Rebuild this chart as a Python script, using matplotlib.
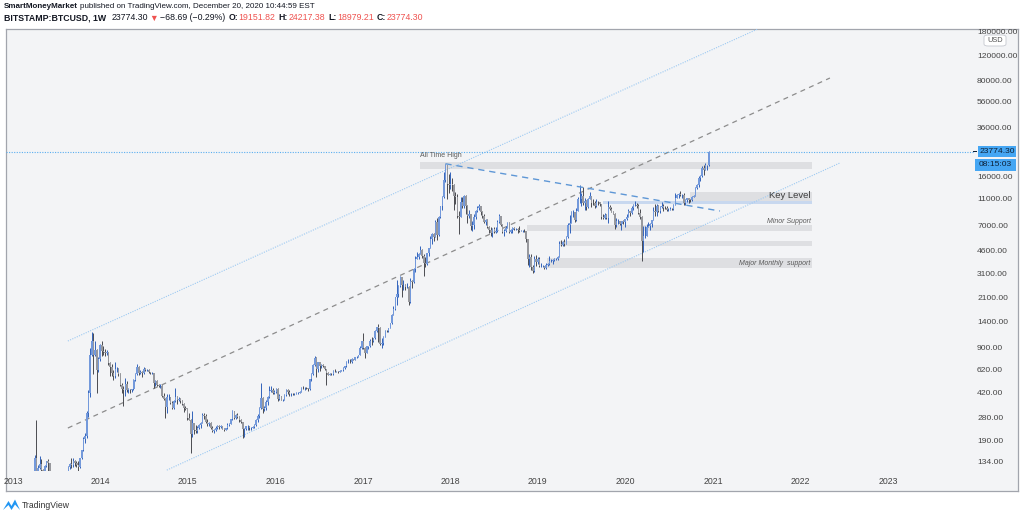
import matplotlib
matplotlib.use('Agg')
import matplotlib.pyplot as plt
import matplotlib.dates as mdates
from matplotlib.patches import Rectangle, FancyBboxPatch, Polygon
import numpy as np
import pandas as pd

# weekly BITSTAMP:BTCUSD candles, weeks starting Mon 2013-01-07
first_open = 13.3
closes = [
    # 2013
    13.6, 14.2, 17.1, 20.4, 22.7, 26.5, 29.8, 34.5, 46.9, 47.0, 64.0, 92.0,
    142, 90, 119, 127, 115, 114, 123, 133, 129, 110, 101, 107, 95,
    75, 97, 95, 97, 106, 105, 111, 121, 128, 125, 134, 130, 126, 122,
    140, 160, 195, 205, 300, 420, 790, 1000, 790, 870, 620, 740, 940,
    # 2014
    850, 830, 820, 830, 690, 650, 590, 560, 630, 630, 580, 480, 450,
    440, 490, 440, 450, 440, 445, 525, 575, 650, 590, 600, 590, 625,
    620, 620, 595, 590, 590, 500, 515, 480, 475, 475, 400, 380, 330,
    390, 390, 355, 325, 365, 390, 375, 380, 365, 350, 325, 320, 275,
    # 2015
    268, 210, 255, 225, 220, 235, 245, 255, 290, 285, 260, 250, 255,
    235, 222, 225, 235, 240, 236, 240, 230, 225, 233, 245, 250, 270,
    310, 274, 290, 282, 265, 258, 228, 229, 240, 240, 232, 234, 238,
    245, 265, 285, 325, 385, 320, 325, 360, 390, 435, 440, 420, 430,
    # 2016
    450, 380, 400, 375, 375, 405, 440, 425, 415, 415, 410, 415, 420,
    420, 430, 460, 455, 460, 455, 445, 530, 575, 670, 760, 630, 700,
    660, 675, 655, 625, 590, 570, 580, 575, 610, 605, 605, 600, 610,
    615, 640, 655, 700, 705, 700, 740, 735, 765, 770, 790, 890, 1000,
    # 2017
    900, 820, 920, 920, 1010, 1000, 1050, 1180, 1270, 1240, 960, 970, 1080,
    1190, 1185, 1240, 1350, 1550, 1720, 2100, 2200, 2520, 2950, 2550, 2550, 2500,
    2500, 1930, 2730, 2720, 3350, 4000, 4090, 4360, 4600, 4200, 3700, 3650, 4380,
    4800, 5600, 6000, 5750, 7400, 5900, 8000, 9700, 11200, 15000, 19100, 14000, 13800,
    # 2018
    14000, 13700, 11500, 11300, 8200, 8100, 10400, 9600, 11500, 9600, 8200, 8500, 6900,
    7000, 8000, 8900, 9300, 9650, 8700, 8200, 7350, 7700, 6750, 6500, 6150, 6600,
    6300, 6350, 7400, 8200, 7050, 6300, 6400, 6700, 7300, 6300, 6500, 6700, 6600,
    6600, 6450, 6400, 6400, 6400, 6350, 5550, 3950, 4100, 3500, 3250, 3950, 3800,
    # 2019
    4000, 3550, 3550, 3550, 3420, 3620, 3650, 3850, 3850, 3900, 4000, 4000, 4120,
    5150, 5050, 5300, 5150, 5750, 7000, 7250, 8700, 8700, 7650, 8950, 10800, 10800,
    11400, 10200, 10500, 9500, 10800, 11500, 10200, 10100, 9600, 10400, 10300, 10000, 8050,
    7850, 8300, 7950, 9500, 9200, 8800, 8500, 7000, 7500, 7500, 7100, 7500, 7400,
    # 2020
    7750, 8100, 8900, 8600, 9350, 9900, 9900, 9650, 8550, 8000, 5350, 5830, 5880,
    6780, 6900, 7130, 7700, 8900, 8750, 9700, 8900, 9450, 9700, 9350, 9300, 9000,
    9100, 9250, 9150, 9900, 11050, 11700, 11800, 11650, 11700, 10250, 10700, 11100, 10750,
    10650, 11300, 11350, 13100, 13750, 15500, 16050, 18400, 17700, 19150, 19151.82, 23774.30,
]
highs = [
    14.0, 14.8, 18.0, 20.8, 23.0, 27.0, 30.0, 34.8, 47.5, 48.5, 65.0, 94.0,
    147, 266, 125, 145, 139, 117, 125, 135, 138, 130, 112, 112, 108,
    96, 98, 100, 98, 107, 109, 112, 124, 130, 140, 140, 136, 133, 133,
    142, 162, 200, 215, 310, 440, 900, 1163, 1150, 1000, 880, 770, 950,
    1000, 920, 880, 870, 830, 710, 680, 620, 700, 650, 640, 590, 500,
    470, 540, 510, 460, 450, 450, 530, 590, 680, 660, 620, 610, 650,
    640, 630, 625, 600, 600, 590, 520, 520, 485, 485, 480, 420, 385,
    410, 410, 395, 365, 370, 460, 400, 395, 385, 370, 355, 335, 325,
    300, 270, 310, 255, 245, 240, 250, 260, 300, 300, 295, 270, 260,
    260, 240, 230, 240, 245, 245, 245, 242, 232, 235, 253, 252, 272,
    315, 312, 295, 298, 285, 270, 260, 235, 240, 245, 240, 236, 240,
    248, 270, 294, 330, 495, 390, 340, 370, 400, 470, 470, 460, 440,
    460, 455, 410, 400, 380, 410, 445, 445, 440, 420, 420, 420, 425,
    425, 435, 465, 470, 465, 465, 460, 535, 590, 680, 780, 770, 705,
    705, 680, 680, 665, 630, 600, 585, 590, 612, 630, 610, 610, 615,
    620, 645, 660, 720, 745, 740, 750, 745, 770, 775, 795, 920, 1000,
    1150, 910, 930, 930, 1030, 1070, 1060, 1200, 1280, 1330, 1260, 1060, 1090,
    1200, 1210, 1255, 1355, 1580, 1800, 2100, 2790, 2550, 2980, 2900, 2800, 2600,
    2650, 2530, 2900, 2800, 3400, 4200, 4480, 4380, 4980, 4700, 4300, 4100, 4400,
    4800, 5850, 6200, 6100, 7600, 7880, 8250, 9750, 11400, 17200, 19666, 19200, 16500,
    17150, 15500, 14100, 12200, 11800, 8900, 11200, 11300, 11700, 11700, 9900, 9100, 8500,
    7500, 8450, 9000, 9750, 9950, 9700, 8850, 8450, 7800, 7750, 6900, 6850, 6650,
    6800, 6800, 7600, 8500, 8250, 7150, 6600, 6900, 7400, 7400, 6600, 6850, 6750,
    6700, 6650, 6900, 6500, 6500, 6550, 6400, 5600, 4350, 4300, 3600, 4200, 4250,
    4100, 4100, 3720, 3620, 3550, 3690, 3700, 4200, 3950, 3950, 4050, 4050, 4150,
    5350, 5450, 5350, 5600, 5850, 7300, 8350, 8900, 9100, 8800, 9350, 11200, 13880,
    12000, 13200, 11100, 10650, 11000, 12300, 11500, 10950, 10600, 10950, 10450, 10350, 10050,
    8500, 8650, 8400, 10500, 9900, 9500, 8950, 8550, 7850, 7750, 7450, 7500, 7650,
    7800, 8450, 9200, 8900, 9600, 9950, 10500, 10200, 9950, 9200, 8200, 6950, 6950,
    7200, 7450, 7300, 7700, 9450, 10000, 9950, 9900, 9750, 10400, 10000, 9600, 9750,
    9300, 9450, 9300, 10000, 12000, 11900, 12100, 12450, 11750, 12100, 10800, 11150, 10900,
    10950, 11450, 11700, 13350, 14100, 15950, 16300, 18800, 19400, 19900, 19400, 24217.38,
]
lows = [
    13.2, 13.5, 14.1, 17.0, 19.5, 22.5, 26.0, 29.5, 34.0, 41.0, 46.8, 63.0,
    90, 50, 65, 118, 79, 107, 111, 121, 114, 100, 96, 98, 89,
    66, 74, 88, 87, 94, 99, 104, 110, 118, 119, 122, 123, 122, 104,
    120, 139, 158, 180, 198, 280, 390, 780, 576, 780, 420, 600, 720,
    780, 800, 780, 790, 670, 560, 560, 520, 540, 600, 560, 470, 420,
    340, 400, 430, 420, 420, 430, 440, 510, 570, 570, 580, 550, 580,
    610, 610, 590, 580, 575, 460, 470, 470, 465, 460, 390, 375, 275,
    300, 370, 350, 320, 320, 360, 350, 365, 355, 345, 305, 315, 265,
    265, 152, 200, 210, 215, 215, 230, 235, 255, 270, 255, 240, 240,
    230, 217, 216, 220, 230, 230, 232, 228, 222, 225, 230, 240, 248,
    265, 270, 271, 277, 260, 255, 198, 200, 225, 225, 225, 226, 232,
    235, 240, 260, 275, 320, 300, 310, 315, 345, 385, 425, 410, 410,
    420, 365, 370, 370, 365, 370, 400, 410, 400, 400, 405, 405, 410,
    415, 420, 425, 445, 440, 445, 435, 440, 515, 570, 665, 550, 600,
    610, 640, 645, 620, 480, 565, 565, 565, 565, 600, 600, 590, 595,
    605, 610, 630, 650, 690, 690, 690, 725, 725, 755, 765, 790, 880,
    880, 750, 820, 880, 910, 940, 990, 1040, 1160, 980, 940, 890, 940,
    1070, 1160, 1170, 1240, 1340, 1550, 1700, 1850, 2100, 2500, 2100, 2350, 2350,
    2450, 1830, 1900, 2450, 2650, 3200, 3950, 3950, 4300, 4050, 2970, 3500, 3600,
    4150, 4750, 5100, 5400, 6000, 5500, 5800, 7950, 9000, 11000, 14500, 10800, 12000,
    12800, 12500, 9000, 10000, 7900, 6000, 8100, 9300, 9400, 8400, 7300, 7900, 6500,
    6400, 6600, 7800, 8700, 9000, 8300, 7950, 7250, 7050, 6650, 6150, 5800, 5750,
    6100, 6100, 6300, 7300, 6900, 6100, 5880, 6250, 6700, 6150, 6150, 6150, 6450,
    6450, 6150, 6300, 6350, 6250, 6300, 5250, 3600, 3500, 3300, 3120, 3200, 3550,
    3650, 3500, 3500, 3450, 3370, 3350, 3550, 3620, 3780, 3680, 3830, 3920, 3900,
    4100, 4950, 4950, 4950, 5200, 5650, 6200, 7500, 8000, 7450, 7550, 8950, 10100,
    9650, 9900, 9050, 9100, 9350, 10850, 9450, 9850, 9350, 9550, 9900, 9600, 7750,
    7750, 7800, 7800, 7300, 9050, 8700, 8400, 6600, 6850, 7100, 7000, 6450, 7100,
    6850, 7700, 8050, 8250, 8500, 9100, 9700, 9300, 8450, 7750, 3850, 4450, 5700,
    5850, 6750, 6500, 6800, 7650, 8200, 8200, 8750, 8650, 9300, 8950, 9200, 8850,
    8950, 9050, 9050, 9100, 9850, 11000, 11150, 11350, 11150, 9900, 9900, 10300, 10150,
    10400, 10550, 11200, 11400, 12950, 13300, 14800, 15800, 16200, 17600, 17600, 18979.21,
]
last_price = 23774.30

# horizontal zones drawn on the chart
zone_starts = ['2017-08-27', '2020-09-26', '2019-09-29', '2018-11-15', '2019-04-03', '2019-02-08']
zone_end = '2022-02-17'
zone_lows = [17990, 10520, 10000, 6360, 4944, 3417]
zone_highs = [20230, 12235, 10520, 7035, 5377, 4043]
zone_colors = ['#dedfe2', '#dedfe2', '#c8d8ef', '#dedfe2', '#dedfe2', '#dedfe2']

# channel / trend lines (date, price)
upper_line = (['2013-08-18', '2021-07-07'], [1004, 188700])
middle_line = (['2013-08-18', '2022-05-04'], [233, 82900])
lower_line = (['2014-10-05', '2022-06-14'], [115, 19900])
trend_line = (['2017-12-11', '2021-01-30'], [19666, 8895])

price_ticks = [180000, 120000, 80000, 56000, 36000, 16000, 11000, 7000, 4600,
               3100, 2100, 1400, 900, 620, 420, 280, 190, 134]
years = list(range(2013, 2024))

W, H = 1024, 516
SANS = ['Liberation Sans', 'DejaVu Sans']


def fx(px):
    return px / W


def fy(py):
    return 1 - py / H


def dnum(d):
    return mdates.date2num(pd.Timestamp(d).to_pydatetime())


fig = plt.figure(figsize=(W / 100, H / 100), dpi=100)
fig.patch.set_facecolor('white')

# chart panel (background + border)
panel = fig.add_axes([fx(6), fy(491), fx(1018) - fx(6), fy(29) - fy(491)])
panel.set_facecolor('#f3f4f6')
panel.set_xticks([])
panel.set_yticks([])
for s in panel.spines.values():
    s.set_color('#a2a5ad')
    s.set_linewidth(0.9)
panel.set_zorder(0)

ax = fig.add_axes([fx(6), fy(471), fx(975) - fx(6), fy(29) - fy(471)])
ax.set_facecolor('none')
ax.set_zorder(1)
for s in ax.spines.values():
    s.set_visible(False)
ax.set_yscale('log')
ax.set_ylim(113.3, 188700)
base = dnum('2013-01-01')
dpp = 365.25 / 87.5
ax.set_xlim(base - 7 * dpp, base + 962 * dpp)

# candles
dates = pd.date_range('2013-01-07', periods=len(closes), freq='7D')
x = mdates.date2num(dates.to_pydatetime())
c = np.array(closes, dtype=float)
o = np.concatenate([[first_open], c[:-1]])
hi = np.maximum(np.array(highs, dtype=float), np.maximum(o, c))
lo = np.minimum(np.array(lows, dtype=float), np.minimum(o, c))
up = c >= o
wick_col = np.where(up, '#3263bb', '#4a4b50')
body_col = np.where(up, '#7399db', '#97989d')
ax.vlines(x, lo, hi, colors=wick_col, lw=0.7, zorder=3)
ax.bar(x + 1.0, np.abs(c - o), bottom=np.minimum(o, c), width=6.5, color=body_col,
       linewidth=0, zorder=3)

# zones
x_end = dnum(zone_end)
for st, zl, zh, zc in zip(zone_starts, zone_lows, zone_highs, zone_colors):
    ax.fill_between([dnum(st), x_end], zl, zh, color=zc, lw=0, zorder=1)


def dline(line, **kw):
    ax.plot([dnum(d) for d in line[0]], line[1], **kw)


dline(upper_line, color='#9cc9f2', lw=0.8, ls=(0, (1, 1.2)), zorder=2)
dline(lower_line, color='#9cc9f2', lw=0.8, ls=(0, (1, 1.2)), zorder=2)
dline(middle_line, color='#8c8c8c', lw=0.9, ls=(0, (4, 3.5)), zorder=2)
dline(trend_line, color='#5e97d6', lw=1.0, ls=(0, (4.5, 3.5)), zorder=4)

ax.axhline(last_price, color='#5aaef0', lw=0.8, ls=(0, (1, 1.3)), zorder=2)

# annotations
ax.text(dnum('2017-08-27'), 22500, 'All Time High', fontsize=5, color='#5a5a5a',
        ha='left', va='center', family=SANS, zorder=5)
ax.text(dnum('2022-02-10'), 11635, 'Key Level', fontsize=6.8, color='#3c3c3c',
        ha='right', va='center', family=SANS, zorder=5)
ax.text(dnum('2022-02-12'), 7433, 'Minor Support', fontsize=5, color='#5a5a5a',
        ha='right', va='center', style='italic', family=SANS, zorder=5)
ax.text(dnum('2022-02-10'), 3716, 'Major Monthly  support', fontsize=5, color='#5a5a5a',
        ha='right', va='center', style='italic', family=SANS, zorder=5)

# axes ticks
ax.yaxis.tick_right()
ax.yaxis.set_minor_locator(matplotlib.ticker.NullLocator())
ax.set_yticks(price_ticks)
ax.set_yticklabels(['%.2f' % v for v in price_ticks], family=SANS)
ax.set_xticks([dnum('%d-01-01' % y) for y in years])
ax.set_xticklabels([str(y) for y in years], family=SANS)
ax.tick_params(axis='y', length=0, pad=1.5, labelsize=6.1, labelcolor='#444444')
ax.tick_params(axis='x', length=0, pad=4.5, labelsize=6.3, labelcolor='#444444')

# price label boxes
fig.add_artist(Rectangle((fx(978), fy(157)), fx(38), 11 / H, transform=fig.transFigure,
                         facecolor='#45a6f3', edgecolor='none', zorder=5))
fig.text(fx(997), fy(151.5), '23774.30', fontsize=6.1, color='#0d2137', ha='center',
         va='center', family=SANS, zorder=6)
fig.add_artist(Rectangle((fx(975), fy(171)), fx(41), 12 / H, transform=fig.transFigure,
                         facecolor='#45a6f3', edgecolor='none', zorder=5))
fig.text(fx(995.5), fy(165), '08:15:03', fontsize=6.1, color='#0d2137', ha='center',
         va='center', family=SANS, zorder=6)
fig.add_artist(Rectangle((fx(973), fy(152.3)), fx(4), 1 / H, transform=fig.transFigure,
                         facecolor='#0d2137', edgecolor='none', zorder=5))

# USD box
fig.add_artist(FancyBboxPatch((fx(984), fy(46)), fx(22), 11 / H,
                              boxstyle='round,pad=0,rounding_size=0.004',
                              transform=fig.transFigure, facecolor='white',
                              edgecolor='#c5c8cf', lw=0.6, zorder=5))
fig.text(fx(995), fy(40.5), 'USD', fontsize=5.3, color='#555555', ha='center',
         va='center', family=SANS, zorder=6)

# header
renderer = fig.canvas.get_renderer()


def chain(y, x0, pieces, size):
    xp = x0
    for s, col, wt, gap in pieces:
        t = fig.text(fx(xp), fy(y), s, fontsize=size, color=col, fontweight=wt,
                     ha='left', va='center', family=SANS)
        bb = t.get_window_extent(renderer=renderer)
        xp = bb.x1 + gap


DARK = '#131722'
RED = '#ef5350'
chain(6.5, 4, [('SmartMoneyMarket', DARK, 'bold', 2),
               ('published on TradingView.com, December 20, 2020 10:44:59 EST', DARK, 'normal', 0)],
      5.75)
chain(18, 4, [('BITSTAMP:BTCUSD, 1W', DARK, 'bold', 5),
              ('23774.30', DARK, 'normal', 2),
              ('\u25bc', RED, 'normal', 2),
              ('\u221268.69 (\u22120.29%)', DARK, 'normal', 3),
              ('O:', DARK, 'bold', 0.5), ('19151.82', RED, 'normal', 3),
              ('H:', DARK, 'bold', 0.5), ('24217.38', RED, 'normal', 3),
              ('L:', DARK, 'bold', 0.5), ('18979.21', RED, 'normal', 3),
              ('C:', DARK, 'bold', 0.5), ('23774.30', RED, 'normal', 0)],
      6.3)

# TradingView logo
logo = [(3, 510), (8.5, 501), (11.5, 506), (15, 499.5), (20, 510), (15, 504.5), (11.5, 510), (8.5, 505)]
fig.add_artist(Polygon([(fx(a), fy(b)) for a, b in logo], closed=True,
                       transform=fig.transFigure, facecolor='#2196f3', edgecolor='none'))
fig.text(fx(22), fy(505), 'TradingView', fontsize=6.2, color='#333333', ha='left',
         va='center', family=SANS)

fig.savefig('out.png', dpi=100)
